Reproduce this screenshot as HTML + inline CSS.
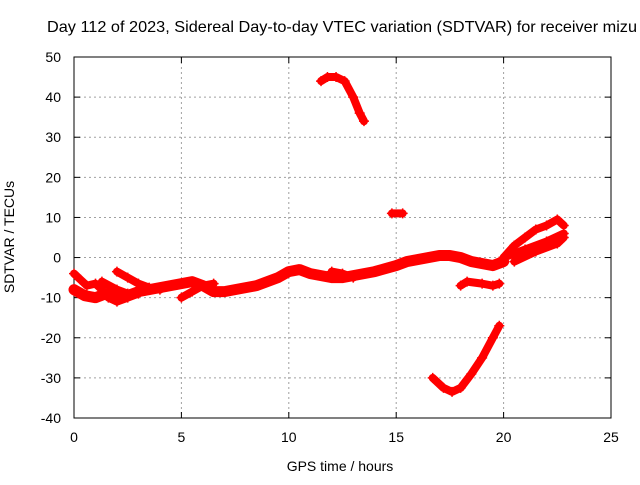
<!DOCTYPE html>
<html><head><meta charset="utf-8"><style>
body{margin:0;background:#fff}
svg text{font-family:"Liberation Sans",sans-serif;font-size:14px;fill:#000}
</style></head><body>
<svg id="c" width="640" height="480" style="overflow:hidden"></svg>
<script>
const xTicks=[0,5,10,15,20,25];
const yTicks=[-40,-30,-20,-10,0,10,20,30,40,50];
const trackMain=[[0,-8],[0.5,-9.5],[1,-10],[1.5,-9],[2,-9],[2.5,-9.5],[3,-8.5],[4,-7.5],[5,-6.5],[5.5,-6],[6,-7],[6.5,-8.5],[7,-8.5],[7.5,-8],[8,-7.5],[8.5,-7],[9,-6],[9.5,-5],[10,-3.5],[10.5,-3],[11,-4],[12,-5],[12.5,-5],[13,-4.5],[14,-3.5],[15,-2],[15.5,-1],[16,-0.5],[17,0.5],[17.5,0.5],[18,0],[18.5,-1],[19,-1.5],[19.5,-2],[20,-1]];
const trackStart=[[0,-4],[0.3,-5.5],[0.6,-7],[1,-6.5],[1.3,-8],[1.6,-10],[2,-11],[2.5,-10],[3,-9]];
const trackBranch=[[1.3,-6],[2,-8],[2.5,-9],[3,-8.5]];
const trackBranch2=[[2,-3.5],[2.5,-5],[3,-6.5],[3.5,-7.5],[4,-8]];
const trackBranch3=[[5,-10],[5.5,-8.5],[6,-7],[6.5,-6.5]];
const trackBranch4=[[12,-3.5],[12.5,-4],[13,-5]];
const trackArc=[[11.5,44],[11.8,45],[12.2,45],[12.6,44],[13,40],[13.3,36],[13.5,34]];
const trackSeg=[[14.8,11],[15.3,11]];
const trackLow=[[18,-7],[18.3,-6],[19,-6.5],[19.5,-7],[19.8,-6.5]];
const trackDip=[[16.7,-30],[17.2,-32.5],[17.6,-33.5],[18,-32.5],[18.5,-29],[19,-25],[19.5,-20],[19.8,-17]];
const trackEnd1=[[20,0],[20.5,3],[21,5],[21.5,7],[22,8],[22.5,9.5],[22.8,8]];
const trackEnd2=[[20,0],[21,2],[22,4],[22.8,6]];
const trackEnd3=[[20.5,-1],[21.5,1.5],[22.5,3.5],[22.8,5]];
const tracks=[trackMain,trackStart,trackBranch,trackBranch2,trackBranch3,trackBranch4,trackArc,trackSeg,trackLow,trackDip,trackEnd1,trackEnd2,trackEnd3];

const L=74,R=611,T=57,B=418;
const sx=v=>L+(v-0)/25*(R-L);
const sy=v=>B-(v+40)/90*(B-T);
const svg=document.getElementById('c');
const NS='http://www.w3.org/2000/svg';
function mk(t,a){const e=document.createElementNS(NS,t);for(const k in a)e.setAttribute(k,a[k]);svg.appendChild(e);return e;}
xTicks.forEach(v=>{
 if(v>0&&v<25){const g=mk('line',{x1:sx(v),x2:sx(v),y1:T,y2:B,stroke:'#a0a0a0','stroke-dasharray':'2,3'});
 
 }
 const t=mk('text',{x:sx(v),y:B+24,'text-anchor':'middle'});t.textContent=v;
 
 
 mk('line',{x1:sx(v),x2:sx(v),y1:B,y2:B-6,stroke:'#000'});
 mk('line',{x1:sx(v),x2:sx(v),y1:T,y2:T+6,stroke:'#000'});
});
yTicks.forEach(v=>{
 if(v>-40&&v<50){const g=mk('line',{x1:L,x2:R,y1:sy(v),y2:sy(v),stroke:'#a0a0a0','stroke-dasharray':'2,3'});
 
 }
 const t=mk('text',{x:L-13,y:sy(v)+5,'text-anchor':'end'});t.textContent=v;
 
 
 mk('line',{x1:L,x2:L+6,y1:sy(v),y2:sy(v),stroke:'#000'});
 mk('line',{x1:R,x2:R-6,y1:sy(v),y2:sy(v),stroke:'#000'});
});
const fr=mk('rect',{x:L,y:T,width:R-L,height:B-T,fill:'none',stroke:'#000'});


tracks.forEach((tr,i)=>{
 const p=mk('polyline',{points:tr.map(d=>sx(d[0])+','+sy(d[1])).join(' '),fill:'none',stroke:'#f00','stroke-width':i===0?11:8,'stroke-linejoin':'round','stroke-linecap':'round'});
 
 
 tr.forEach(d=>{
  const x=sx(d[0]),y=sy(d[1]);
  const m=mk('path',{d:`M${x-5},${y}H${x+5}M${x},${y-5}V${y+5}`,stroke:'#f00','stroke-width':1.5});
  
  
 });
});
const tt=mk('text',{x:47,y:32,'text-anchor':'start',textLength:590,lengthAdjust:'spacingAndGlyphs',style:'font-size:16px'});tt.textContent='Day 112 of 2023, Sidereal Day-to-day VTEC variation (SDTVAR) for receiver mizu';


const xt=mk('text',{x:340,y:471,'text-anchor':'middle'});xt.textContent='GPS time / hours';


const yt=mk('text',{x:14,y:237,'text-anchor':'middle',transform:'rotate(-90 14 237)'});yt.textContent='SDTVAR / TECUs';


</script>
</body></html>
